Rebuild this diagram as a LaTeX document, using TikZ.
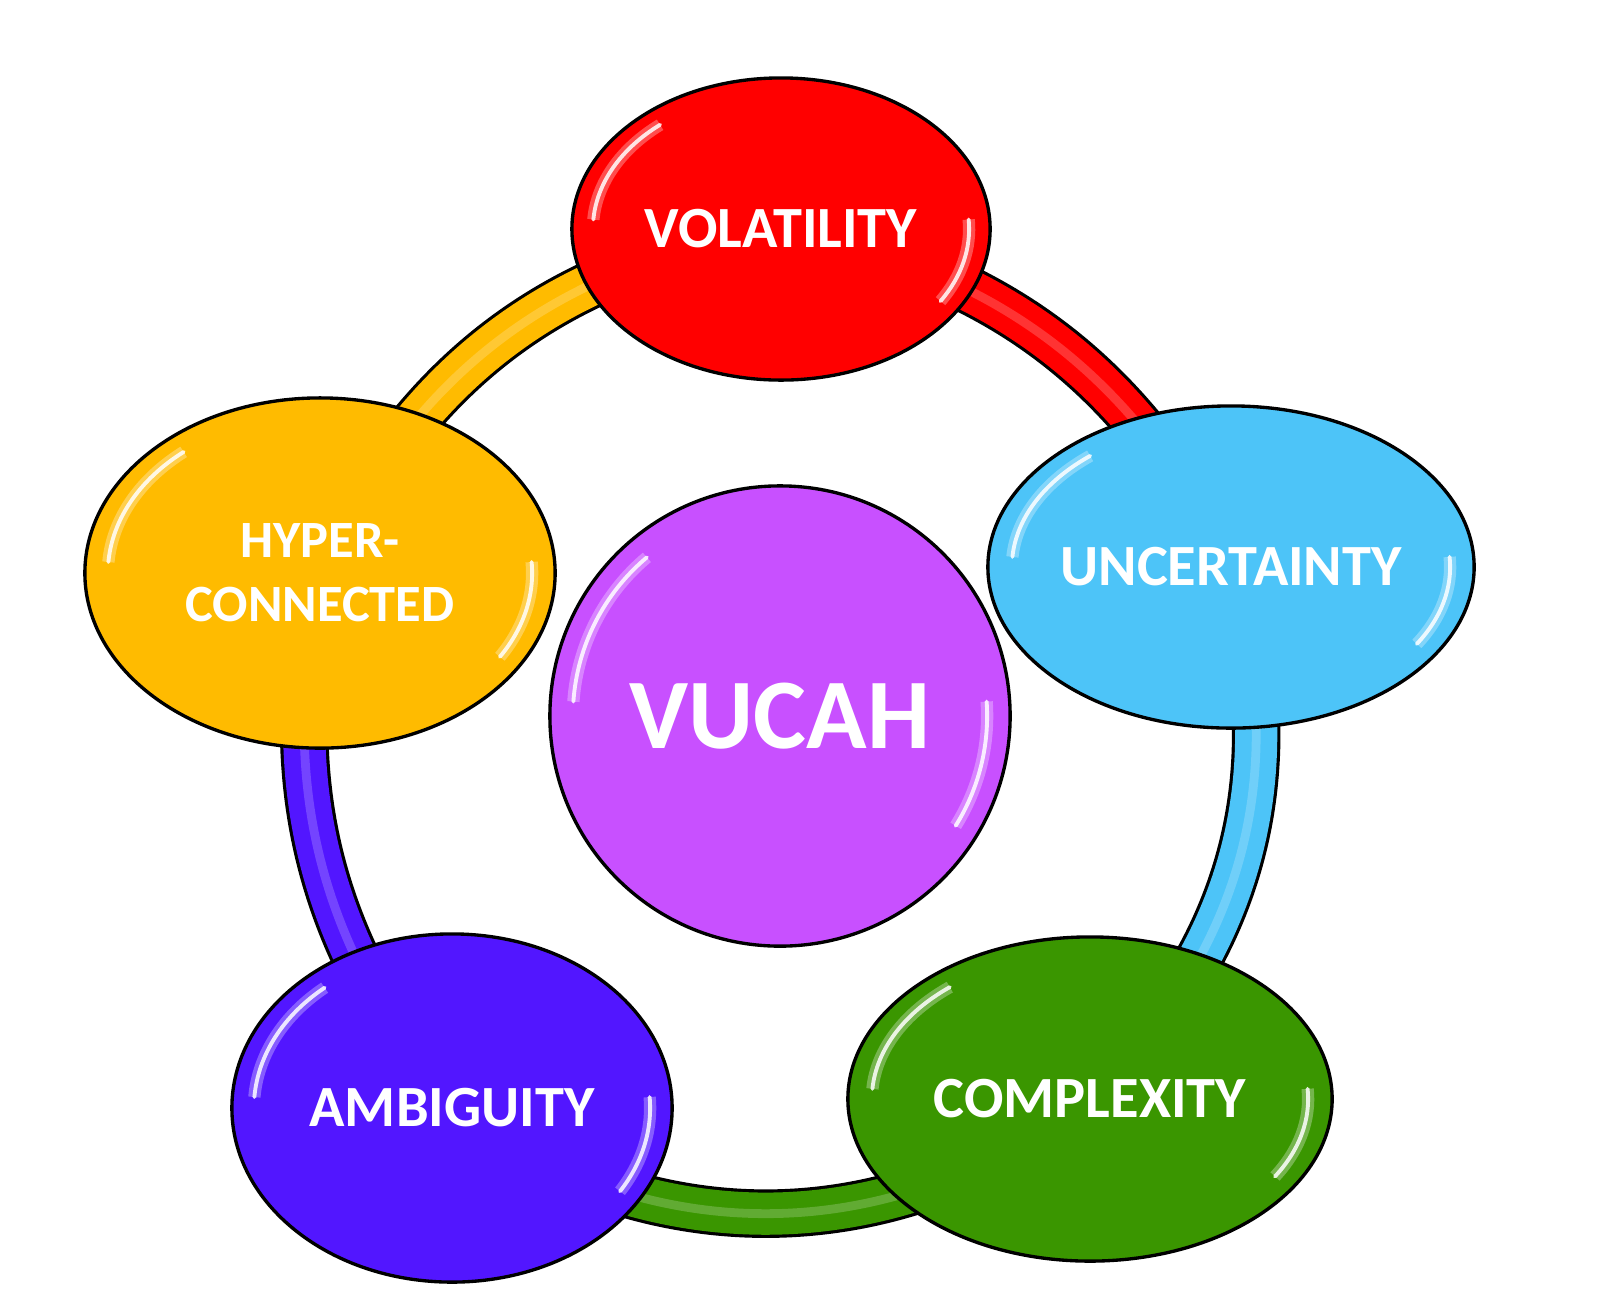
\documentclass[tikz,border=0pt]{standalone}
\usepackage{fontspec}
\setmainfont{Carlito}
\usetikzlibrary{shapes.geometric,backgrounds}
\definecolor{VolClr}{RGB}{255,0,0}
\definecolor{UncClr}{RGB}{77,196,248}
\definecolor{CmpClr}{RGB}{58,150,0}
\definecolor{AmbClr}{RGB}{82,22,255}
\definecolor{HypClr}{RGB}{255,187,0}
\definecolor{CoreClr}{RGB}{200,80,255}
% white gloss streaks inside a bubble: #1 node, #2/#3 radii
\newcommand{\NodeShine}[3]{%
  \draw[gloss] (#1.center) ++(130:#2 and #3) arc[start angle=130,end angle=176,x radius=#2,y radius=#3];
  \draw[gloss] (#1.center) ++(-32:#2 and #3) arc[start angle=-32,end angle=4,x radius=#2,y radius=#3];}

\begin{document}
\begin{tikzpicture}[x=0.01cm,y=0.01cm,
  blob/.style={ellipse,draw=black,line width=0.95pt,inner sep=0pt,text=white,align=center,
    font=\fontsize{16.6}{20}\selectfont\bfseries},
  band/.style={line width=12pt,draw=#1,preaction={draw=black,line width=13.8pt},
    postaction={draw=white,line width=2.5pt,opacity=.2}},
  gloss/.style={white,line width=1.1pt,opacity=.85,line cap=round,
    preaction={draw=white,line width=3.5pt,opacity=.3}}]

\useasboundingbox (0,0) rectangle (1600,-1314);

\node[blob,fill=VolClr,minimum width=4.18cm,minimum height=3.02cm] (vol) at (781,-229) {VOLATILITY};
\node[blob,fill=UncClr,minimum width=4.86cm,minimum height=3.22cm] (unc) at (1231,-567) {UNCERTAINTY};
\node[blob,fill=CmpClr,minimum width=4.84cm,minimum height=3.24cm] (cmp) at (1090,-1099) {COMPLEXITY};
\node[blob,fill=AmbClr,minimum width=4.40cm,minimum height=3.48cm] (amb) at (452,-1108) {AMBIGUITY};
\node[blob,fill=HypClr,minimum width=4.70cm,minimum height=3.50cm,
  font=\fontsize{14.9}{18.2}\selectfont\bfseries] (hyp) at (320,-573) {HYPER-\\CONNECTED};
\node[blob,circle,fill=CoreClr,minimum size=4.60cm,
  font=\fontsize{28.4}{32}\selectfont\bfseries] (core) at (780,-716) {VUCAH};

\NodeShine{vol}{1.88cm}{1.36cm}
\NodeShine{unc}{2.19cm}{1.45cm}
\NodeShine{cmp}{2.18cm}{1.46cm}
\NodeShine{amb}{1.98cm}{1.57cm}
\NodeShine{hyp}{2.12cm}{1.58cm}
\NodeShine{core}{2.07cm}{2.07cm}

% the ring
\begin{pgfonlayer}{background}
\draw[band=HypClr] (hyp.center) to[bend left=28] (vol.center);
\draw[band=VolClr] (vol.center) to[bend left=26] (unc.center);
\draw[band=UncClr] (unc.center) to[bend left=31] (cmp.center);
\draw[band=CmpClr] (cmp.center) to[bend left=36] (amb.center);
\draw[band=AmbClr] (amb.center) to[bend left=25] (hyp.center);
\end{pgfonlayer}

\end{tikzpicture}
\end{document}
